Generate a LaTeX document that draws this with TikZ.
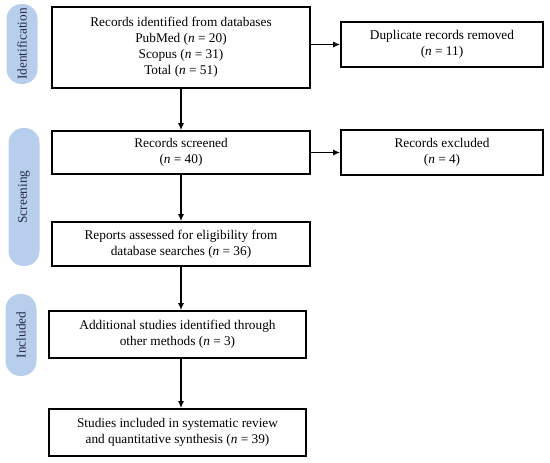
\documentclass[tikz,border=0pt]{standalone}
\usepackage{fontspec}
\setmainfont{Liberation Serif}
\usetikzlibrary{arrows.meta}
\definecolor{pillblue}{RGB}{183,206,236}
\definecolor{pilltext}{RGB}{36,44,68}

\begin{document}
\begin{tikzpicture}[x=1pt, y=1pt,
	box/.style={draw=black, line width=1.7pt, align=center, inner sep=0pt,
		font=\fontsize{13.3}{16}\selectfont},
	pill/.style={fill=pillblue, text=pilltext, rotate=90, minimum height=31pt,
		rounded corners=15pt, inner sep=0pt, font=\fontsize{13.3}{16}\selectfont},
	flow/.style={line width=1.6pt, -{Latex[length=7pt, width=6pt]}}]
			%%%%% START %%%%%
			
			\useasboundingbox (0, 0) rectangle (550, -463);
			
			\node[pill, minimum width=80pt] (ident) at (22, -44) {Identification};
			\node[pill, minimum width=138pt] (screen) at (24, -197) {Screening};
			\node[pill, minimum width=82pt] (incl) at (21, -335) {Included};
			
			\node[box, minimum width=258pt, minimum height=81pt] (found) at (181, -47.5)
				{Records identified from databases\\PubMed (\textit{n} = 20)\\Scopus (\textit{n} = 31)\\Total (\textit{n} = 51)};
			\node[box, minimum width=202pt, minimum height=45pt] (dupes) at (442, -44.5)
				{Duplicate records removed\\(\textit{n} = 11)};
			
			\node[box, minimum width=258pt, minimum height=43pt] (screened) at (181, -152.5)
				{Records screened\\(\textit{n} = 40)};
			\node[box, minimum width=202pt, minimum height=45pt] (excluded) at (442, -152.5)
				{Records excluded\\(\textit{n} = 4)};
			
			\node[box, minimum width=258pt, minimum height=44pt] (reports) at (181, -244)
				{Reports assessed for eligibility from\\database searches (\textit{n} = 36)};
			
			\node[box, minimum width=257pt, minimum height=47pt] (extra) at (177.5, -334.5)
				{Additional studies identified through\\other methods (\textit{n} = 3)};
			
			\node[box, minimum width=257pt, minimum height=47pt] (studies) at (177.5, -432.5)
				{Studies included in systematic review\\and quantitative synthesis (\textit{n} = 39)};
			
			\draw[flow] (found.south) -- (screened.north);
			\draw[flow] (screened.south) -- (reports.north);
			\draw[flow] (reports.south) -- (reports.south |- extra.north);
			\draw[flow] (reports.south |- extra.south) -- (reports.south |- studies.north);
			
			\draw[flow] (found.east |- dupes.west) -- (dupes.west);
			\draw[flow] (screened.east |- excluded.west) -- (excluded.west);
			
			%%%%% END %%%%%
		\end{tikzpicture}
\end{document}
